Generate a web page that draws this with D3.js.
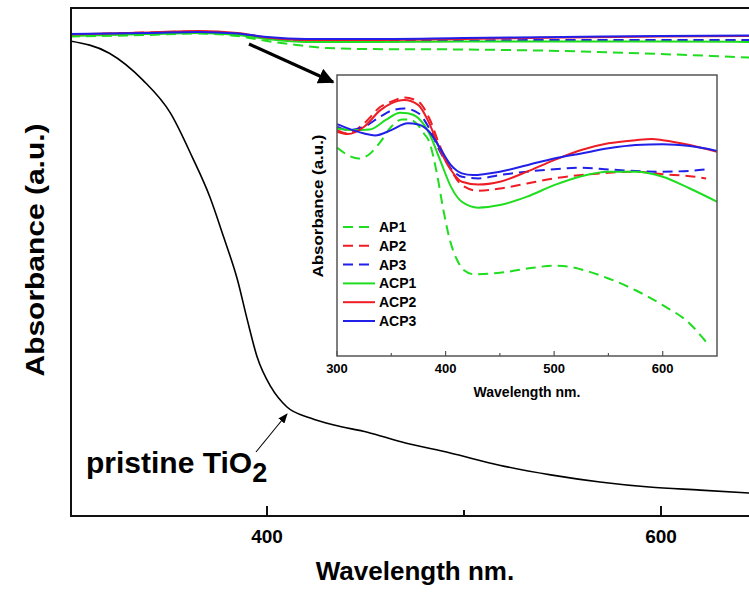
<!DOCTYPE html>
<html>
<head>
<meta charset="utf-8">
<script src="https://cdn.jsdelivr.net/npm/d3@7"></script>
<style>
  body { margin: 0; background: #fff; }
  text { font-family: "Liberation Sans", Arial, sans-serif; font-weight: bold; }
</style>
</head>
<body>
<svg id="chart" width="749" height="592"></svg>
<script>
// ---- data (wavelength nm, absorbance a.u.) ----
// main panel
var pristine = [[300,0.935],[320,0.911],[337,0.858],[351,0.793],[362,0.707],[371,0.628],[378,0.549],
  [385,0.465],[390,0.386],[395,0.313],[402,0.254],[410,0.215],[422,0.193],[434,0.179],[451,0.165],
  [468,0.146],[493,0.124],[518,0.100],[544,0.081],[569,0.067],[594,0.057],[620,0.051],[650,0.044]];
var mainAP1  = [[300,0.9439],[340,0.9469],[365,0.9498],[385,0.9449],[400,0.9350],[415,0.9272],[430,0.9213],
  [450,0.9193],[500,0.9183],[550,0.9154],[600,0.9094],[650,0.9016]];
var mainAP2  = [[300,0.9469],[340,0.9518],[365,0.9537],[385,0.9488],[400,0.9400],[420,0.9350],[450,0.9341],
  [500,0.9350],[550,0.9360],[600,0.9360],[650,0.9360]];
var mainAP3  = [[300,0.9469],[340,0.9508],[365,0.9528],[385,0.9488],[400,0.9409],[420,0.9360],[450,0.9350],
  [500,0.9360],[550,0.9370],[600,0.9370],[650,0.9370]];
var mainACP1 = [[300,0.9449],[340,0.9488],[365,0.9508],[385,0.9469],[400,0.9390],[420,0.9331],[450,0.9331],
  [500,0.9341],[550,0.9341],[600,0.9341],[650,0.9331]];
var mainACP2 = [[300,0.9478],[340,0.9518],[365,0.9547],[385,0.9508],[400,0.9419],[420,0.9370],[450,0.9370],
  [500,0.9390],[550,0.9419],[600,0.9439],[650,0.9449]];
var mainACP3 = [[300,0.9488],[340,0.9508],[365,0.9528],[385,0.9498],[400,0.9429],[420,0.9390],[450,0.9390],
  [500,0.9409],[550,0.9429],[600,0.9449],[650,0.9459]];

// inset panel
var AP1  = [[300,0.742],[310,0.715],[320,0.703],[330,0.719],[340,0.762],[350,0.816],[360,0.842],[368,0.840],
  [375,0.820],[380,0.792],[385,0.762],[392,0.650],[398,0.519],[404,0.412],[410,0.347],[417,0.305],[426,0.291],
  [450,0.296],[475,0.311],[500,0.321],[515,0.317],[525,0.308],[550,0.276],[575,0.234],[600,0.181],[625,0.115],[640,0.050]];
var AP2  = [[300,0.804],[310,0.792],[325,0.828],[340,0.887],[350,0.905],[362,0.920],[375,0.905],[385,0.846],
  [395,0.745],[405,0.662],[415,0.608],[430,0.588],[450,0.596],[475,0.614],[500,0.632],[525,0.644],[550,0.652],
  [575,0.656],[600,0.647],[625,0.640],[640,0.632]];
var AP3  = [[300,0.816],[310,0.804],[325,0.816],[340,0.852],[350,0.873],[362,0.881],[375,0.864],[385,0.810],
  [395,0.727],[405,0.667],[415,0.638],[430,0.632],[450,0.644],[475,0.656],[500,0.665],[525,0.670],[550,0.664],
  [575,0.658],[600,0.656],[625,0.659],[640,0.664]];
var ACP1 = [[300,0.810],[315,0.804],[330,0.806],[345,0.840],[358,0.866],[365,0.864],[375,0.846],[385,0.792],
  [395,0.697],[405,0.602],[415,0.549],[430,0.528],[450,0.537],[475,0.567],[500,0.608],[525,0.640],[550,0.656],
  [575,0.656],[600,0.638],[625,0.596],[650,0.549]];
var ACP2 = [[300,0.798],[310,0.790],[325,0.816],[340,0.875],[350,0.899],[362,0.911],[375,0.893],[385,0.828],
  [395,0.733],[405,0.662],[415,0.620],[430,0.610],[450,0.620],[475,0.656],[500,0.697],[525,0.733],[550,0.757],
  [575,0.768],[590,0.772],[600,0.768],[625,0.751],[650,0.727]];
var ACP3 = [[300,0.825],[310,0.810],[325,0.792],[335,0.785],[350,0.804],[365,0.828],[375,0.824],[385,0.798],
  [395,0.739],[405,0.679],[415,0.650],[425,0.644],[450,0.656],[475,0.679],[500,0.703],[525,0.721],[550,0.739],
  [575,0.751],[600,0.754],[625,0.747],[650,0.730]];

var seriesNames = ["AP1", "AP2", "AP3", "ACP1", "ACP2", "ACP3"];
var mainTicks = [400, 500, 600];
var mainTickLabels = ["400", "", "600"];
var insetTicks = [300, 350, 400, 450, 500, 550, 600];
var insetTickLabels = ["300", "", "400", "", "500", "", "600"];

var green = "#1fdd1f", red = "#ee1c24", blue = "#2020e8";
var styles = {
  AP1: {color: green, dash: "10,6"}, AP2: {color: red, dash: "10,6"}, AP3: {color: blue, dash: "10,6"},
  ACP1: {color: green, dash: null}, ACP2: {color: red, dash: null}, ACP3: {color: blue, dash: null}
};

var svg = d3.select("#chart");

// ---------- main panel ----------
var x = d3.scaleLinear().domain([300, 650]).range([70, 759.5]);
var y = d3.scaleLinear().domain([0, 1]).range([516, 8]);
var line = d3.line().x(d => x(d[0])).y(d => y(d[1])).curve(d3.curveMonotoneX);

svg.append("path").datum(pristine).attr("d", line)
  .attr("fill", "none").attr("stroke", "#000").attr("stroke-width", 1.6);

var mainData = {AP1: mainAP1, AP2: mainAP2, AP3: mainAP3, ACP1: mainACP1, ACP2: mainACP2, ACP3: mainACP3};
seriesNames.forEach(function(n) {
  svg.append("path").datum(mainData[n]).attr("d", line)
    .attr("fill", "none").attr("stroke", styles[n].color).attr("stroke-width", 2)
    .attr("stroke-dasharray", styles[n].dash);
});

// frame (right side cut off like the original)
svg.append("path").attr("d", "M800,8H71V516H800")
  .attr("fill", "none").attr("stroke", "#111").attr("stroke-width", 2);

var xAxis = svg.append("g").attr("transform", "translate(0,516)");
xAxis.selectAll("line").data(mainTicks).enter().append("line")
  .attr("x1", d => x(d)).attr("x2", d => x(d))
  .attr("y1", 0).attr("y2", (d, i) => mainTickLabels[i] ? -10 : -6)
  .attr("stroke", "#111").attr("stroke-width", 2);
xAxis.selectAll("text").data(mainTicks).enter().append("text")
  .attr("x", d => x(d)).attr("y", 27).attr("text-anchor", "middle")
  .attr("font-size", 19).text((d, i) => mainTickLabels[i]);

svg.append("text").attr("x", 415).attr("y", 580).attr("text-anchor", "middle")
  .attr("font-size", 26).text("Wavelength nm.");
svg.append("text").attr("transform", "translate(44,250) rotate(-90)").attr("text-anchor", "middle")
  .attr("font-size", 26).attr("textLength", 253).attr("lengthAdjust", "spacingAndGlyphs")
  .text("Absorbance (a.u.)");

var lbl = svg.append("text").attr("x", 86).attr("y", 473).attr("font-size", 30);
lbl.append("tspan").text("pristine TiO");
lbl.append("tspan").attr("dy", 9).attr("font-size", 27).text("2");

// arrows
var defs = svg.append("defs");
defs.append("marker").attr("id", "bigHead").attr("viewBox", "0 0 10 10").attr("refX", 9).attr("refY", 5)
  .attr("markerWidth", 5).attr("markerHeight", 5).attr("orient", "auto")
  .append("path").attr("d", "M0,0L10,5L0,10Z").attr("fill", "#000");
defs.append("marker").attr("id", "smallHead").attr("viewBox", "0 0 10 10").attr("refX", 9).attr("refY", 5)
  .attr("markerWidth", 9).attr("markerHeight", 9).attr("orient", "auto")
  .append("path").attr("d", "M0,1L10,5L0,9Z").attr("fill", "#000");
svg.append("line").attr("x1", 249).attr("y1", 44).attr("x2", 333).attr("y2", 82)
  .attr("stroke", "#000").attr("stroke-width", 3.2).attr("marker-end", "url(#bigHead)");
svg.append("line").attr("x1", 256).attr("y1", 452).attr("x2", 287).attr("y2", 414)
  .attr("stroke", "#000").attr("stroke-width", 1.1).attr("marker-end", "url(#smallHead)");

// ---------- inset ----------
var ix = d3.scaleLinear().domain([300, 650]).range([337, 717]);
var iy = d3.scaleLinear().domain([0, 1]).range([356, 75]);
var iline = d3.line().x(d => ix(d[0])).y(d => iy(d[1])).curve(d3.curveMonotoneX);

svg.append("rect").attr("x", 337).attr("y", 75).attr("width", 380).attr("height", 281)
  .attr("fill", "#fff");
var insetData = {AP1: AP1, AP2: AP2, AP3: AP3, ACP1: ACP1, ACP2: ACP2, ACP3: ACP3};
seriesNames.forEach(function(n) {
  svg.append("path").datum(insetData[n]).attr("d", iline)
    .attr("fill", "none").attr("stroke", styles[n].color).attr("stroke-width", 2)
    .attr("stroke-dasharray", styles[n].dash);
});
svg.append("rect").attr("x", 337).attr("y", 75).attr("width", 380).attr("height", 281)
  .attr("fill", "none").attr("stroke", "#555").attr("stroke-width", 1.5);

var ixAxis = svg.append("g").attr("transform", "translate(0,356)");
ixAxis.selectAll("line").data(insetTicks).enter().append("line")
  .attr("x1", d => ix(d)).attr("x2", d => ix(d))
  .attr("y1", 0).attr("y2", (d, i) => insetTickLabels[i] ? -5 : -3)
  .attr("stroke", "#555").attr("stroke-width", 1.2);
ixAxis.selectAll("text").data(insetTicks).enter().append("text")
  .attr("x", d => ix(d)).attr("y", 17).attr("text-anchor", "middle")
  .attr("font-size", 13).text((d, i) => insetTickLabels[i]);

svg.append("text").attr("x", 527).attr("y", 397).attr("text-anchor", "middle")
  .attr("font-size", 14).text("Wavelength nm.");
svg.append("text").attr("transform", "translate(323,206) rotate(-90)").attr("text-anchor", "middle")
  .attr("font-size", 14).attr("textLength", 143).attr("lengthAdjust", "spacingAndGlyphs")
  .text("Absorbance (a.u.)");

// legend
var legendY = d3.scalePoint().domain(seriesNames).range([227, 321]);
var lg = svg.append("g");
seriesNames.forEach(function(n) {
  lg.append("line").attr("x1", 343).attr("x2", 375).attr("y1", legendY(n)).attr("y2", legendY(n))
    .attr("stroke", styles[n].color).attr("stroke-width", 2).attr("stroke-dasharray", styles[n].dash);
  lg.append("text").attr("x", 379).attr("y", legendY(n)).attr("dy", "0.36em")
    .attr("font-size", 14).text(n);
});
</script>
</body>
</html>
